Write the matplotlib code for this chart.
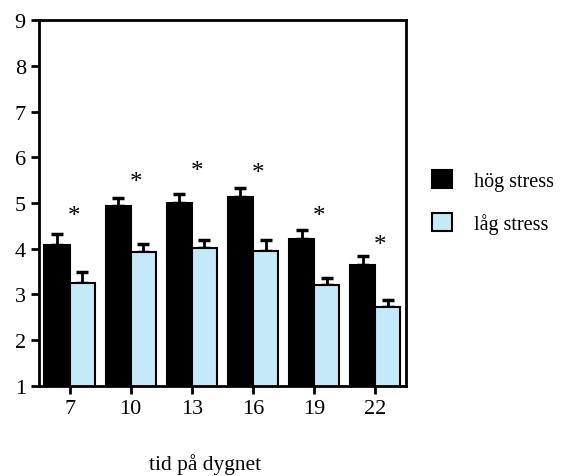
import matplotlib.pyplot as plt
import matplotlib.patches as mpatches
import numpy as np

plt.rcParams['font.family'] = ['Liberation Serif', 'DejaVu Serif']

# Data
hours = ['7', '10', '13', '16', '19', '22']
hog = [4.09, 4.93, 5.01, 5.14, 4.22, 3.65]
hog_err = [0.23, 0.19, 0.19, 0.18, 0.19, 0.18]
lag = [3.24, 3.92, 4.01, 3.96, 3.20, 2.72]
lag_err = [0.24, 0.18, 0.19, 0.24, 0.15, 0.16]
star_y = [4.72, 5.47, 5.69, 5.66, 4.72, 4.08]

blue = '#c4e9f8'
w = 0.41
x = np.arange(len(hours))

fig = plt.figure(figsize=(5.61, 4.77), dpi=100)
ax = fig.add_axes([0.0695, 0.1893, 0.654, 0.766])

ax.bar(x - w / 2, hog, w, color='black', edgecolor='black', linewidth=1.5, zorder=2)
ax.bar(x + w / 2, lag, w, color=blue, edgecolor='black', linewidth=1.5, zorder=2)

# bara övre felstaplar
ax.errorbar(x - w / 2, hog, yerr=[np.zeros(len(x)), hog_err], fmt='none',
            ecolor='black', elinewidth=2, capsize=4, capthick=2.5, zorder=1)
ax.errorbar(x + w / 2, lag, yerr=[np.zeros(len(x)), lag_err], fmt='none',
            ecolor='black', elinewidth=2, capsize=4, capthick=2.5, zorder=1)

for i, sy in enumerate(star_y):
    ax.text(x[i] + 0.08, sy, '*', ha='center', va='center', fontsize=18)

ax.set_xlim(-0.5, 5.5)
ax.set_ylim(1, 9)
ax.set_xticks(x)
ax.set_xticklabels(hours)
ax.set_yticks(range(1, 10))
ax.tick_params(axis='both', direction='out', length=6, width=2, labelsize=16, pad=3.5)
for s in ax.spines.values():
    s.set_linewidth(2)

fig.text(205 / 561, 1 - 465 / 477, 'tid på dygnet', ha='center', va='center', fontsize=15.5)

handles = [mpatches.Patch(facecolor='black', edgecolor='black', linewidth=1.5, label='hög stress'),
           mpatches.Patch(facecolor=blue, edgecolor='black', linewidth=1.5, label='låg stress')]
fig.legend(handles=handles, loc='center left', bbox_to_anchor=(0.770, 0.574),
           frameon=False, fontsize=14.5, handlelength=1.0, handleheight=1.0,
           labelspacing=1.1, handletextpad=1.1, borderpad=0, borderaxespad=0)

fig.savefig('out.png', dpi=100)
